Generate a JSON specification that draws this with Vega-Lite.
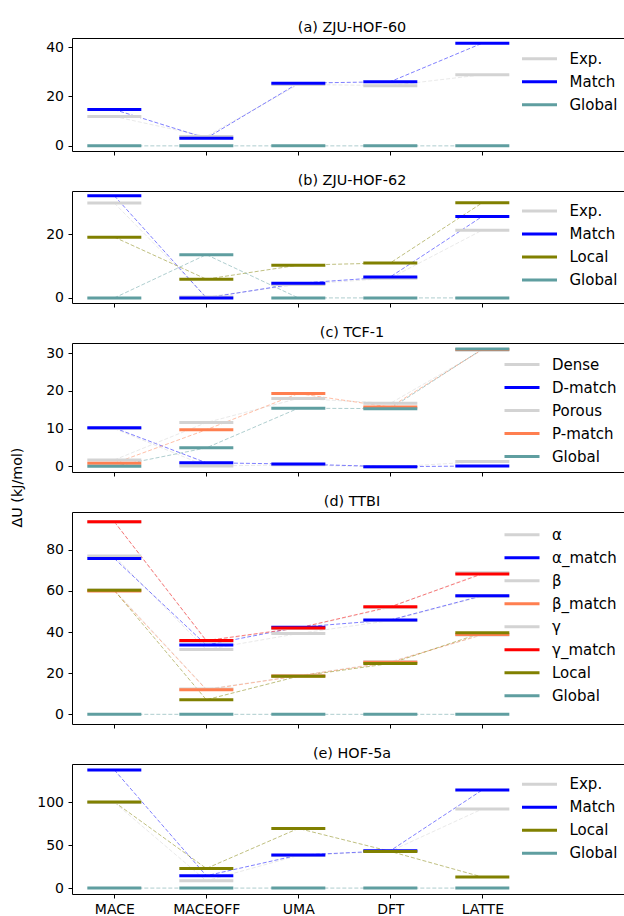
{
  "$schema": "https://vega.github.io/schema/vega-lite/v6.json",
  "padding": {"left": 10, "top": 19, "right": 0, "bottom": 0},
  "config": {
    "font": "DejaVu Sans",
    "view": {"stroke": null},
    "axis": {"labelFontSize": 14, "labelColor": "#000", "labelFont": "DejaVu Sans", "tickColor": "#000", "domainColor": "#000", "domainWidth": 1, "tickWidth": 1, "grid": false, "tickSize": 4, "labelPadding": 4.5, "titleFontSize": 14.3, "titleFontWeight": "normal", "titleColor": "#000", "titleFont": "DejaVu Sans"},
    "title": {"fontSize": 14.4, "fontWeight": "normal", "color": "#000", "font": "DejaVu Sans", "anchor": "middle", "frame": "group", "offset": 3, "baseline": "alphabetic", "dx": 4},
    "legend": {"labelFont": "DejaVu Sans", "labelColor": "#000"}
  },
  "datasets": {
    "a": [
      {"model": "MACE", "series": "Exp.", "value": 11.9}, {"model": "MACEOFF", "series": "Exp.", "value": 3.8}, {"model": "UMA", "series": "Exp.", "value": 24.9}, {"model": "DFT", "series": "Exp.", "value": 24.4}, {"model": "LATTE", "series": "Exp.", "value": 28.8},
      {"model": "MACE", "series": "Match", "value": 14.7}, {"model": "MACEOFF", "series": "Match", "value": 3.1}, {"model": "UMA", "series": "Match", "value": 25.4}, {"model": "DFT", "series": "Match", "value": 26.0}, {"model": "LATTE", "series": "Match", "value": 41.6},
      {"model": "MACE", "series": "Global", "value": 0}, {"model": "MACEOFF", "series": "Global", "value": 0}, {"model": "UMA", "series": "Global", "value": 0}, {"model": "DFT", "series": "Global", "value": 0}, {"model": "LATTE", "series": "Global", "value": 0}
    ],
    "b": [
      {"model": "MACE", "series": "Exp.", "value": 29.8}, {"model": "MACEOFF", "series": "Exp.", "value": 0.3}, {"model": "UMA", "series": "Exp.", "value": 4.2}, {"model": "DFT", "series": "Exp.", "value": 6.2}, {"model": "LATTE", "series": "Exp.", "value": 21.3},
      {"model": "MACE", "series": "Match", "value": 32.1}, {"model": "MACEOFF", "series": "Match", "value": 0.0}, {"model": "UMA", "series": "Match", "value": 4.6}, {"model": "DFT", "series": "Match", "value": 6.6}, {"model": "LATTE", "series": "Match", "value": 25.6},
      {"model": "MACE", "series": "Local", "value": 19.1}, {"model": "MACEOFF", "series": "Local", "value": 5.9}, {"model": "UMA", "series": "Local", "value": 10.3}, {"model": "DFT", "series": "Local", "value": 11.0}, {"model": "LATTE", "series": "Local", "value": 29.9},
      {"model": "MACE", "series": "Global", "value": 0}, {"model": "MACEOFF", "series": "Global", "value": 13.6}, {"model": "UMA", "series": "Global", "value": 0}, {"model": "DFT", "series": "Global", "value": 0}, {"model": "LATTE", "series": "Global", "value": 0}
    ],
    "c": [
      {"model": "MACE", "series": "Dense", "value": 10.0}, {"model": "MACEOFF", "series": "Dense", "value": 0.1}, {"model": "UMA", "series": "Dense", "value": 0.4}, {"model": "DFT", "series": "Dense", "value": -0.2}, {"model": "LATTE", "series": "Dense", "value": 1.3},
      {"model": "MACE", "series": "D-match", "value": 10.2}, {"model": "MACEOFF", "series": "D-match", "value": 0.95}, {"model": "UMA", "series": "D-match", "value": 0.6}, {"model": "DFT", "series": "D-match", "value": -0.1}, {"model": "LATTE", "series": "D-match", "value": 0.1},
      {"model": "MACE", "series": "Porous", "value": 1.7}, {"model": "MACEOFF", "series": "Porous", "value": 11.6}, {"model": "UMA", "series": "Porous", "value": 18.0}, {"model": "DFT", "series": "Porous", "value": 16.7}, {"model": "LATTE", "series": "Porous", "value": 30.8},
      {"model": "MACE", "series": "P-match", "value": 0.8}, {"model": "MACEOFF", "series": "P-match", "value": 9.7}, {"model": "UMA", "series": "P-match", "value": 19.3}, {"model": "DFT", "series": "P-match", "value": 15.7}, {"model": "LATTE", "series": "P-match", "value": 31.0},
      {"model": "MACE", "series": "Global", "value": 0}, {"model": "MACEOFF", "series": "Global", "value": 4.9}, {"model": "UMA", "series": "Global", "value": 15.4}, {"model": "DFT", "series": "Global", "value": 15.3}, {"model": "LATTE", "series": "Global", "value": 31.1}
    ],
    "d": [
      {"model": "MACE", "series": "α", "value": 77.0}, {"model": "MACEOFF", "series": "α", "value": 31.5}, {"model": "UMA", "series": "α", "value": 39.3}, {"model": "DFT", "series": "α", "value": 45.6}, {"model": "LATTE", "series": "α", "value": 57.4},
      {"model": "MACE", "series": "α_match", "value": 75.8}, {"model": "MACEOFF", "series": "α_match", "value": 33.7}, {"model": "UMA", "series": "α_match", "value": 42.4}, {"model": "DFT", "series": "α_match", "value": 45.9}, {"model": "LATTE", "series": "α_match", "value": 57.7},
      {"model": "MACE", "series": "β", "value": 60.5}, {"model": "MACEOFF", "series": "β", "value": 12.3}, {"model": "UMA", "series": "β", "value": 18.8}, {"model": "DFT", "series": "β", "value": 25.6}, {"model": "LATTE", "series": "β", "value": 38.6},
      {"model": "MACE", "series": "β_match", "value": 60.0}, {"model": "MACEOFF", "series": "β_match", "value": 12.0}, {"model": "UMA", "series": "β_match", "value": 18.7}, {"model": "DFT", "series": "β_match", "value": 25.3}, {"model": "LATTE", "series": "β_match", "value": 38.8},
      {"model": "MACE", "series": "γ", "value": 93.5}, {"model": "MACEOFF", "series": "γ", "value": 35.5}, {"model": "UMA", "series": "γ", "value": 41.8}, {"model": "DFT", "series": "γ", "value": 52.0}, {"model": "LATTE", "series": "γ", "value": 68.8},
      {"model": "MACE", "series": "γ_match", "value": 93.7}, {"model": "MACEOFF", "series": "γ_match", "value": 35.9}, {"model": "UMA", "series": "γ_match", "value": 42.0}, {"model": "DFT", "series": "γ_match", "value": 52.3}, {"model": "LATTE", "series": "γ_match", "value": 68.3},
      {"model": "MACE", "series": "Local", "value": 60.3}, {"model": "MACEOFF", "series": "Local", "value": 7.1}, {"model": "UMA", "series": "Local", "value": 18.5}, {"model": "DFT", "series": "Local", "value": 24.7}, {"model": "LATTE", "series": "Local", "value": 39.7},
      {"model": "MACE", "series": "Global", "value": 0}, {"model": "MACEOFF", "series": "Global", "value": 0}, {"model": "UMA", "series": "Global", "value": 0}, {"model": "DFT", "series": "Global", "value": 0}, {"model": "LATTE", "series": "Global", "value": 0}
    ],
    "e": [
      {"model": "MACE", "series": "Exp.", "value": 100.0}, {"model": "MACEOFF", "series": "Exp.", "value": 8.5}, {"model": "UMA", "series": "Exp.", "value": 38.0}, {"model": "DFT", "series": "Exp.", "value": 43.0}, {"model": "LATTE", "series": "Exp.", "value": 92.3},
      {"model": "MACE", "series": "Match", "value": 137.9}, {"model": "MACEOFF", "series": "Match", "value": 14.4}, {"model": "UMA", "series": "Match", "value": 38.5}, {"model": "DFT", "series": "Match", "value": 43.6}, {"model": "LATTE", "series": "Match", "value": 114.5},
      {"model": "MACE", "series": "Local", "value": 100.5}, {"model": "MACEOFF", "series": "Local", "value": 22.9}, {"model": "UMA", "series": "Local", "value": 69.6}, {"model": "DFT", "series": "Local", "value": 42.8}, {"model": "LATTE", "series": "Local", "value": 12.9},
      {"model": "MACE", "series": "Global", "value": 0}, {"model": "MACEOFF", "series": "Global", "value": 0}, {"model": "UMA", "series": "Global", "value": 0}, {"model": "DFT", "series": "Global", "value": 0}, {"model": "LATTE", "series": "Global", "value": 0}
    ]
  },
  "spacing": 40,
  "bounds": "flush",
  "resolve": {"scale": {"color": "independent", "y": "independent", "x": "independent"}, "legend": {"color": "independent"}},
  "vconcat": [
    {
      "title": "(a) ZJU-HOF-60",
      "width": 552, "height": 113,
      "data": {"name": "a"},
      "resolve": {"axis": {"x": "independent"}},
      "layer": [
        {"mark": {"type": "line", "strokeDash": [4, 2], "strokeWidth": 1, "opacity": 0.5},
         "encoding": {
           "x": {"field": "model", "type": "nominal", "sort": ["MACE", "MACEOFF", "UMA", "DFT", "LATTE"], "scale": {"type": "point", "padding": 1.11, "align": 0.23}, "axis": {"orient": "top", "labels": false, "ticks": false, "title": null}},
           "y": {"field": "value", "type": "quantitative", "scale": {"domain": [-2.08, 43.7], "nice": false, "zero": false}, "axis": {"values": [0, 20, 40], "title": null}},
           "color": {"field": "series", "type": "nominal", "scale": {"domain": ["Exp.", "Match", "Global"], "range": ["#d3d3d3", "#0000ff", "#5f9ea0"]}, "legend": {"orient": "none", "legendX": 448.5, "legendY": 9.2, "symbolType": "stroke", "symbolSize": 1225, "symbolStrokeWidth": 3, "symbolDash": [], "symbolOpacity": 1, "labelFontSize": 15, "clipHeight": 23, "rowPadding": 0, "labelOffset": 11, "padding": 0, "title": null}}
         }},
        {"mark": {"type": "rule", "strokeWidth": 3, "xOffset": -27, "x2Offset": 27},
         "encoding": {
           "x": {"field": "model", "type": "nominal", "sort": ["MACE", "MACEOFF", "UMA", "DFT", "LATTE"], "scale": {"type": "point", "padding": 1.11, "align": 0.23}, "axis": {"orient": "bottom", "labels": false, "title": null}},
           "x2": {"field": "model"},
           "y": {"field": "value", "type": "quantitative", "axis": {"values": [0, 20, 40], "title": null}},
           "color": {"field": "series", "type": "nominal", "scale": {"domain": ["Exp.", "Match", "Global"], "range": ["#d3d3d3", "#0000ff", "#5f9ea0"]}, "legend": null}
         }}
      ]
    },
    {
      "title": "(b) ZJU-HOF-62",
      "width": 552, "height": 112,
      "data": {"name": "b"},
      "resolve": {"axis": {"x": "independent"}},
      "layer": [
        {"mark": {"type": "line", "strokeDash": [4, 2], "strokeWidth": 1, "opacity": 0.5},
         "encoding": {
           "x": {"field": "model", "type": "nominal", "sort": ["MACE", "MACEOFF", "UMA", "DFT", "LATTE"], "scale": {"type": "point", "padding": 1.11, "align": 0.23}, "axis": {"orient": "top", "labels": false, "ticks": false, "title": null}},
           "y": {"field": "value", "type": "quantitative", "scale": {"domain": [-1.6, 33.6], "nice": false, "zero": false}, "axis": {"values": [0, 20], "title": null}},
           "color": {"field": "series", "type": "nominal", "scale": {"domain": ["Exp.", "Match", "Local", "Global"], "range": ["#d3d3d3", "#0000ff", "#808000", "#5f9ea0"]}, "legend": {"orient": "none", "legendX": 448.5, "legendY": 8.5, "symbolType": "stroke", "symbolSize": 1225, "symbolStrokeWidth": 3, "symbolDash": [], "symbolOpacity": 1, "labelFontSize": 15, "clipHeight": 23, "rowPadding": 0, "labelOffset": 11, "padding": 0, "title": null}}
         }},
        {"mark": {"type": "rule", "strokeWidth": 3, "xOffset": -27, "x2Offset": 27},
         "encoding": {
           "x": {"field": "model", "type": "nominal", "sort": ["MACE", "MACEOFF", "UMA", "DFT", "LATTE"], "scale": {"type": "point", "padding": 1.11, "align": 0.23}, "axis": {"orient": "bottom", "labels": false, "title": null}},
           "x2": {"field": "model"},
           "y": {"field": "value", "type": "quantitative", "axis": {"values": [0, 20], "title": null}},
           "color": {"field": "series", "type": "nominal", "scale": {"domain": ["Exp.", "Match", "Local", "Global"], "range": ["#d3d3d3", "#0000ff", "#808000", "#5f9ea0"]}, "legend": null}
         }}
      ]
    },
    {
      "title": "(c) TCF-1",
      "width": 552, "height": 129,
      "data": {"name": "c"},
      "resolve": {"axis": {"x": "independent"}},
      "layer": [
        {"mark": {"type": "line", "strokeDash": [4, 2], "strokeWidth": 1, "opacity": 0.5},
         "encoding": {
           "x": {"field": "model", "type": "nominal", "sort": ["MACE", "MACEOFF", "UMA", "DFT", "LATTE"], "scale": {"type": "point", "padding": 1.11, "align": 0.23}, "axis": {"orient": "top", "labels": false, "ticks": false, "title": null}},
           "y": {"field": "value", "type": "quantitative", "scale": {"domain": [-1.5, 32.7], "nice": false, "zero": false}, "axis": {"values": [0, 10, 20, 30], "title": "ΔU (kJ/mol)", "titleX": -51, "titleY": 144, "titleAlign": "center", "titleBaseline": "alphabetic", "titleAngle": 270}},
           "color": {"field": "series", "type": "nominal", "scale": {"domain": ["Dense", "D-match", "Porous", "P-match", "Global"], "range": ["#d3d3d3", "#0000ff", "#d3d3d3", "#ff7f50", "#5f9ea0"]}, "legend": {"orient": "none", "legendX": 431, "legendY": 10, "symbolType": "stroke", "symbolSize": 1225, "symbolStrokeWidth": 3, "symbolDash": [], "symbolOpacity": 1, "labelFontSize": 15, "clipHeight": 23, "rowPadding": 0, "labelOffset": 11, "padding": 0, "title": null}}
         }},
        {"mark": {"type": "rule", "strokeWidth": 3, "xOffset": -27, "x2Offset": 27},
         "encoding": {
           "x": {"field": "model", "type": "nominal", "sort": ["MACE", "MACEOFF", "UMA", "DFT", "LATTE"], "scale": {"type": "point", "padding": 1.11, "align": 0.23}, "axis": {"orient": "bottom", "labels": false, "title": null}},
           "x2": {"field": "model"},
           "y": {"field": "value", "type": "quantitative", "axis": {"values": [0, 10, 20, 30], "title": "ΔU (kJ/mol)", "titleX": -51, "titleY": 144, "titleAlign": "center", "titleBaseline": "alphabetic", "titleAngle": 270}},
           "color": {"field": "series", "type": "nominal", "scale": {"domain": ["Dense", "D-match", "Porous", "P-match", "Global"], "range": ["#d3d3d3", "#0000ff", "#d3d3d3", "#ff7f50", "#5f9ea0"]}, "legend": null}
         }}
      ]
    },
    {
      "title": "(d) TTBI",
      "width": 552, "height": 212,
      "data": {"name": "d"},
      "resolve": {"axis": {"x": "independent"}},
      "layer": [
        {"mark": {"type": "line", "strokeDash": [4, 2], "strokeWidth": 1, "opacity": 0.5},
         "encoding": {
           "x": {"field": "model", "type": "nominal", "sort": ["MACE", "MACEOFF", "UMA", "DFT", "LATTE"], "scale": {"type": "point", "padding": 1.11, "align": 0.23}, "axis": {"orient": "top", "labels": false, "ticks": false, "title": null}},
           "y": {"field": "value", "type": "quantitative", "scale": {"domain": [-4.7, 98.4], "nice": false, "zero": false}, "axis": {"values": [0, 20, 40, 60, 80], "title": null}},
           "color": {"field": "series", "type": "nominal", "scale": {"domain": ["α", "α_match", "β", "β_match", "γ", "γ_match", "Local", "Global"], "range": ["#d3d3d3", "#0000ff", "#d3d3d3", "#ff7f50", "#d3d3d3", "#ff0000", "#808000", "#5f9ea0"]}, "legend": {"orient": "none", "legendX": 431, "legendY": 11.2, "symbolType": "stroke", "symbolSize": 1225, "symbolStrokeWidth": 3, "symbolDash": [], "symbolOpacity": 1, "labelFontSize": 15, "clipHeight": 23, "rowPadding": 0, "labelOffset": 11, "padding": 0, "title": null}}
         }},
        {"mark": {"type": "rule", "strokeWidth": 3, "xOffset": -27, "x2Offset": 27},
         "encoding": {
           "x": {"field": "model", "type": "nominal", "sort": ["MACE", "MACEOFF", "UMA", "DFT", "LATTE"], "scale": {"type": "point", "padding": 1.11, "align": 0.23}, "axis": {"orient": "bottom", "labels": false, "title": null}},
           "x2": {"field": "model"},
           "y": {"field": "value", "type": "quantitative", "axis": {"values": [0, 20, 40, 60, 80], "title": null}},
           "color": {"field": "series", "type": "nominal", "scale": {"domain": ["α", "α_match", "β", "β_match", "γ", "γ_match", "Local", "Global"], "range": ["#d3d3d3", "#0000ff", "#d3d3d3", "#ff7f50", "#d3d3d3", "#ff0000", "#808000", "#5f9ea0"]}, "legend": null}
         }}
      ]
    },
    {
      "title": "(e) HOF-5a",
      "width": 552, "height": 130,
      "data": {"name": "e"},
      "resolve": {"axis": {"x": "independent"}},
      "layer": [
        {"mark": {"type": "line", "strokeDash": [4, 2], "strokeWidth": 1, "opacity": 0.5},
         "encoding": {
           "x": {"field": "model", "type": "nominal", "sort": ["MACE", "MACEOFF", "UMA", "DFT", "LATTE"], "scale": {"type": "point", "padding": 1.11, "align": 0.23}, "axis": {"orient": "top", "labels": false, "ticks": false, "title": null}},
           "y": {"field": "value", "type": "quantitative", "scale": {"domain": [-6.9, 144.8], "nice": false, "zero": false}, "axis": {"values": [0, 50, 100], "title": null}},
           "color": {"field": "series", "type": "nominal", "scale": {"domain": ["Exp.", "Match", "Local", "Global"], "range": ["#d3d3d3", "#0000ff", "#808000", "#5f9ea0"]}, "legend": {"orient": "none", "legendX": 448.5, "legendY": 8.8, "symbolType": "stroke", "symbolSize": 1225, "symbolStrokeWidth": 3, "symbolDash": [], "symbolOpacity": 1, "labelFontSize": 15, "clipHeight": 23, "rowPadding": 0, "labelOffset": 11, "padding": 0, "title": null}}
         }},
        {"mark": {"type": "rule", "strokeWidth": 3, "xOffset": -27, "x2Offset": 27},
         "encoding": {
           "x": {"field": "model", "type": "nominal", "sort": ["MACE", "MACEOFF", "UMA", "DFT", "LATTE"], "scale": {"type": "point", "padding": 1.11, "align": 0.23}, "axis": {"orient": "bottom", "labelAngle": 0, "title": null}},
           "x2": {"field": "model"},
           "y": {"field": "value", "type": "quantitative", "axis": {"values": [0, 50, 100], "title": null}},
           "color": {"field": "series", "type": "nominal", "scale": {"domain": ["Exp.", "Match", "Local", "Global"], "range": ["#d3d3d3", "#0000ff", "#808000", "#5f9ea0"]}, "legend": null}
         }}
      ]
    }
  ]
}
